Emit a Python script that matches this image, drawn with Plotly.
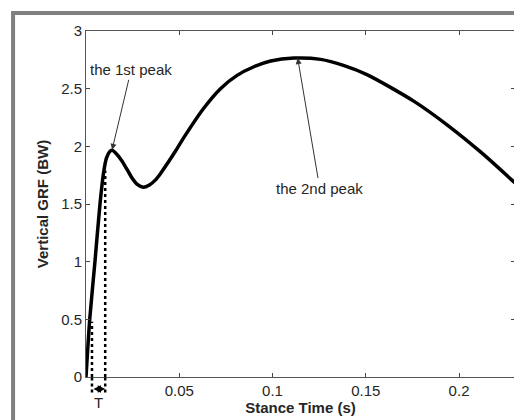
import plotly.graph_objects as go

# Stance time (s) and vertical GRF (BW)
stance_time = [0, 0.002, 0.0048, 0.0075, 0.0095, 0.011, 0.0125, 0.014, 0.016, 0.019,
               0.022, 0.0245, 0.0275, 0.0307, 0.034, 0.037, 0.040, 0.044, 0.048,
               0.0532, 0.0631, 0.0721, 0.081, 0.09, 0.099, 0.1115, 0.1258, 0.1384,
               0.1509, 0.1759, 0.1941, 0.212, 0.2302]
vertical_grf = [0, 0.5, 1.0, 1.5, 1.78, 1.9, 1.95, 1.965, 1.94, 1.88,
                1.80, 1.73, 1.67, 1.645, 1.665, 1.705, 1.765, 1.86, 1.96,
                2.095, 2.33, 2.50, 2.615, 2.69, 2.74, 2.765, 2.754, 2.70,
                2.62, 2.39, 2.18, 1.945, 1.68]

# Loading interval T (dotted markers)
t_marks = [0.0032, 0.0103]
t_mark_tops = [0.48, 1.79]

# Peaks
peak_labels = ["the 1st peak", "the 2nd peak"]
peak_x = [0.014, 0.1135]
peak_y = [1.97, 2.765]

x_ticks = [0.05, 0.1, 0.15, 0.2]
x_ticktext = ["0.05", "0.1", "0.15", "0.2"]
y_ticks = [0, 0.5, 1, 1.5, 2, 2.5, 3]
y_ticktext = ["0", "0.5", "1", "1.5", "2", "2.5", "3"]

FONT = "Liberation Sans, Arial, sans-serif"
TXT = "#262626"
FS = 15

fig = go.Figure()
fig.add_trace(go.Scatter(
    x=stance_time, y=vertical_grf, mode="lines",
    line=dict(color="black", width=3.5, shape="spline", smoothing=0.7),
    showlegend=False, hoverinfo="skip"))

shapes = []
# outer gray frame (cropped on right/bottom)
shapes.append(dict(type="rect", xref="paper", yref="paper",
                   x0=-0.17, x1=1.3, y0=-0.4, y1=1.052,
                   line=dict(color="#808080", width=4), layer="below"))
for tx, ty in zip(t_marks, t_mark_tops):
    shapes.append(dict(type="line", xref="x", yref="y", x0=tx, x1=tx, y0=0, y1=ty,
                       line=dict(color="black", width=2.5, dash="dot"), layer="above"))
    shapes.append(dict(type="line", xref="x", yref="paper", x0=tx, x1=tx, y0=-0.045, y1=0,
                       line=dict(color="black", width=2.5, dash="dot"), layer="above"))

annotations = []
annotations.append(dict(text=peak_labels[0], x=peak_x[0], y=peak_y[0], xref="x", yref="y",
                        ax=19, ay=-80, showarrow=True, arrowhead=2, arrowsize=1.2,
                        arrowwidth=1, arrowcolor="#333333",
                        font=dict(family=FONT, size=FS, color=TXT)))
annotations.append(dict(text=peak_labels[1], x=peak_x[1], y=peak_y[1], xref="x", yref="y",
                        ax=22, ay=130, showarrow=True, arrowhead=2, arrowsize=1.2,
                        arrowwidth=1, arrowcolor="#333333",
                        font=dict(family=FONT, size=FS, color=TXT)))
annotations.append(dict(text="", x=t_marks[1], y=-0.035, xref="x", yref="paper",
                        ax=t_marks[0], ay=0, axref="x", ayref="pixel",
                        showarrow=True, arrowhead=2, arrowside="end+start", arrowsize=1,
                        arrowwidth=1.5, arrowcolor="black"))
annotations.append(dict(text="T", x=(t_marks[0] + t_marks[1]) / 2, y=-0.075,
                        xref="x", yref="paper", showarrow=False, yanchor="middle",
                        font=dict(family=FONT, size=FS, color=TXT)))

# page body has an 8px margin, so the figure is 8px smaller and shifted
fig.update_layout(
    width=514, height=412,
    margin=dict(l=78, r=7, t=23, b=43),
    paper_bgcolor="white", plot_bgcolor="white",
    font=dict(family=FONT, size=FS, color=TXT),
    shapes=shapes, annotations=annotations,
    xaxis=dict(range=[0, 0.23], tickvals=x_ticks, ticktext=x_ticktext,
               ticks="inside", ticklen=4, tickcolor="#444", mirror="ticks",
               showline=True, linecolor="#555", linewidth=1, showgrid=False,
               zeroline=False, tickfont=dict(size=FS, color=TXT), automargin=False,
               title=dict(text="<b>Stance Time (s)</b>", standoff=3,
                          font=dict(size=FS, color=TXT))),
    yaxis=dict(range=[0, 3], tickvals=y_ticks, ticktext=y_ticktext,
               ticks="inside", ticklen=4, tickcolor="#444", mirror="ticks",
               showline=True, linecolor="#555", linewidth=1, showgrid=False,
               zeroline=False, tickfont=dict(size=FS, color=TXT), automargin=False,
               title=dict(text="<b>Vertical GRF (BW)</b>", standoff=8,
                          font=dict(size=FS, color=TXT))),
)

fig.write_html("out.html")
